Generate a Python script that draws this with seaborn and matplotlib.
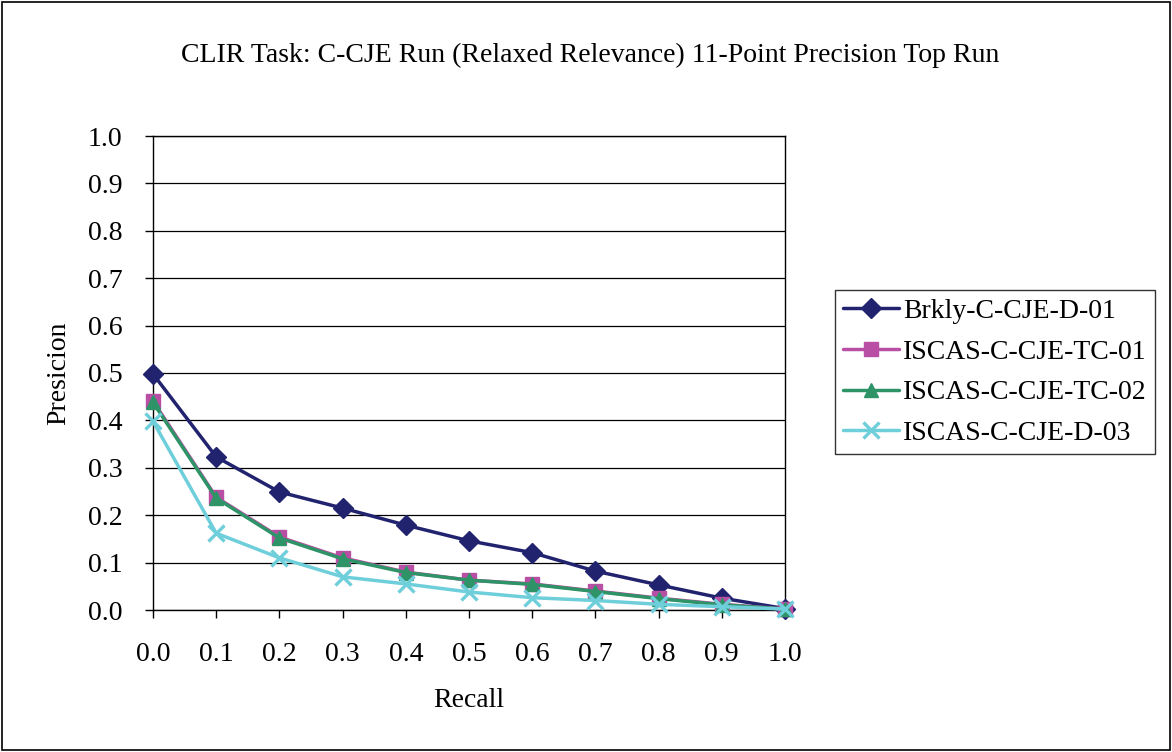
import numpy as np
import pandas as pd
import seaborn as sns
import matplotlib
matplotlib.use("Agg")
import matplotlib.pyplot as plt

recall = [0.0, 0.1, 0.2, 0.3, 0.4, 0.5, 0.6, 0.7, 0.8, 0.9, 1.0]
brkly_d01 = [0.498, 0.323, 0.249, 0.215, 0.179, 0.146, 0.121, 0.082, 0.053, 0.025, 0.003]
iscas_tc01 = [0.441, 0.238, 0.154, 0.110, 0.080, 0.063, 0.055, 0.040, 0.025, 0.012, 0.002]
iscas_tc02 = [0.438, 0.236, 0.152, 0.108, 0.079, 0.063, 0.054, 0.039, 0.024, 0.011, 0.002]
iscas_d03 = [0.398, 0.162, 0.110, 0.070, 0.055, 0.038, 0.026, 0.020, 0.012, 0.007, 0.002]
series_names = ["Brkly-C-CJE-D-01", "ISCAS-C-CJE-TC-01", "ISCAS-C-CJE-TC-02", "ISCAS-C-CJE-D-03"]
tick_labels = ["0.0", "0.1", "0.2", "0.3", "0.4", "0.5", "0.6", "0.7", "0.8", "0.9", "1.0"]

frames = []
for name, vals in zip(series_names, [brkly_d01, iscas_tc01, iscas_tc02, iscas_d03]):
    frames.append(pd.DataFrame({"Recall": recall, "Precision": vals, "Run": name}))
df = pd.concat(frames, ignore_index=True)

sns.set_theme(style="white")
plt.rcParams['font.family'] = ['Liberation Serif', 'DejaVu Serif']
plt.rcParams['text.color'] = 'black'
plt.rcParams['axes.labelcolor'] = 'black'
plt.rcParams['xtick.color'] = 'black'
plt.rcParams['ytick.color'] = 'black'

colors = ["#22236F", "#B94FA4", "#2E9468", "#6ECFDB"]
palette = dict(zip(series_names, colors))
marker_map = dict(zip(series_names, ["D", "s", "^", "x"]))

fig = plt.figure(figsize=(11.72, 7.52), dpi=100)
ax = fig.add_axes([153/1172, 1 - 610/752, (785-153)/1172, (610-136)/752])

for name in series_names:
    sub = df[df["Run"] == name]
    m = marker_map[name]
    sns.lineplot(data=sub, x="Recall", y="Precision", ax=ax, color=palette[name],
                 marker=m, markersize=10.5 if m != "x" else 11,
                 markeredgewidth=1 if m != "x" else 2.4,
                 markeredgecolor=palette[name], linewidth=2.5, label=name,
                 clip_on=False, zorder=3)

ax.set_xlim(0, 1.0)
ax.set_ylim(0, 1.0)
ax.set_xticks(recall)
ax.set_xticklabels(tick_labels)
ax.set_yticks(recall)
ax.set_yticklabels(tick_labels)
ax.yaxis.grid(True, color="black", linewidth=0.9)
ax.xaxis.grid(False)
for s in ax.spines.values():
    s.set_visible(True)
    s.set_color("black")
    s.set_linewidth(1.0)
ax.tick_params(axis="both", which="both", direction="out", length=6, width=1,
               colors="black", labelsize=20, bottom=True, left=True)
ax.tick_params(axis="x", pad=17)
ax.tick_params(axis="y", pad=16)
ax.set_xlabel("Recall", fontsize=20, labelpad=15)
ax.set_ylabel("Presicion", fontsize=20, labelpad=12)

fig.text(590/1172, 1 - 55/752, "CLIR Task: C-CJE Run (Relaxed Relevance) 11-Point Precision Top Run",
         ha="center", va="center", fontsize=20)

leg = ax.legend(loc="upper left", bbox_to_anchor=((835-153)/(785-153), (610-290)/(610-136)),
                frameon=True, fancybox=False, fontsize=20, handlelength=2.0,
                borderpad=0.3, labelspacing=0.55, handletextpad=0.15, borderaxespad=0)
leg.get_frame().set_edgecolor("black")
leg.get_frame().set_linewidth(1.0)

border = plt.Rectangle((0.002, 0.002), 0.996, 0.996, transform=fig.transFigure,
                       fill=False, edgecolor="black", linewidth=1.2)
fig.patches.append(border)

fig.savefig("out.png", dpi=100)
